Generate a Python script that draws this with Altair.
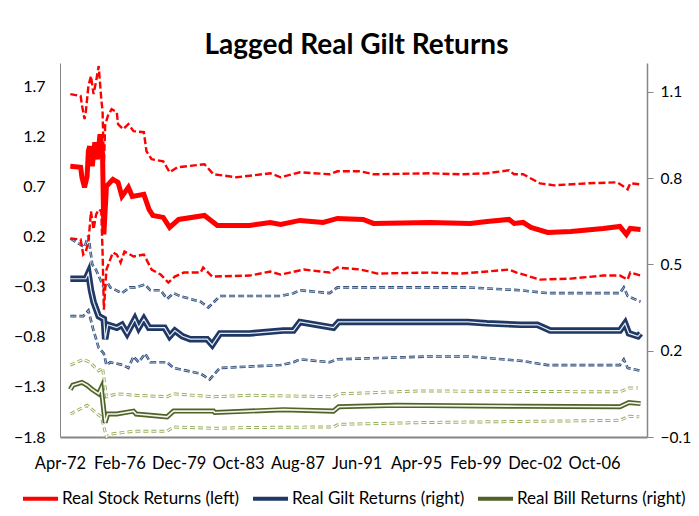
import altair as alt
import pandas as pd

FONT = "Lato"

# ---------------- axis texts / ticks ----------------
x_labels = ["Apr-72", "Feb-76", "Dec-79", "Oct-83", "Aug-87", "Jun-91",
            "Apr-95", "Feb-99", "Dec-02", "Oct-06"]
label_step = 46          # months between category labels
x_end = 455              # last month on the category axis (months since Apr-72)
left_ticks = [-1.8, -1.3, -0.8, -0.3, 0.2, 0.7, 1.2, 1.7]
right_ticks = [-0.1, 0.2, 0.5, 0.8, 1.1]
left_domain = [-1.8, 1.93]
right_domain = [-0.1, 1.2]

series_names = ["Real Stock Returns (left)", "Real Gilt Returns (right)",
                "Real Bill Returns (right)"]
series_colors = ["#FF0000", "#1F3864", "#4F6228"]

# ---------------- data (months since Apr-72, values) ----------------
# Real stock returns (left axis)
stock_m = [8, 16, 17, 19, 21, 22, 23, 25, 27, 29, 31, 33, 34, 36, 41, 45, 48, 53, 56, 65,
           69, 72, 80, 85, 92, 112, 119, 122, 147, 163, 171, 186, 204, 215, 235, 243, 287,
           318, 331, 348, 352, 359, 365, 378, 396, 421, 434, 439, 442, 450]
stock_v = [0.90, 0.89, 0.79, 0.69, 0.80, 1.05, 1.10, 0.90, 1.14, 0.97, 1.22, 1.00, 0.22, 0.70,
           0.77, 0.74, 0.60, 0.69, 0.60, 0.62, 0.47, 0.41, 0.39, 0.29, 0.37, 0.41, 0.34, 0.31,
           0.31, 0.34, 0.32, 0.36, 0.34, 0.38, 0.37, 0.33, 0.34, 0.33, 0.35, 0.37, 0.33, 0.34,
           0.29, 0.24, 0.25, 0.28, 0.30, 0.22, 0.28, 0.27]
stock_up_m = [8, 16, 17, 19, 20, 22, 24, 26, 28, 30, 32, 33, 34, 35, 37, 40, 44, 45, 49, 53,
              57, 65, 67, 71, 80, 85, 91, 112, 119, 137, 163, 171, 186, 209, 215, 233, 243,
              287, 310, 331, 348, 352, 359, 372, 383, 409, 432, 440, 442, 450]
stock_up_v = [1.62, 1.60, 1.51, 1.37, 1.44, 1.70, 1.80, 1.62, 1.75, 1.90, 1.57, 1.45, 0.90,
              1.31, 1.40, 1.47, 1.44, 1.32, 1.27, 1.32, 1.25, 1.24, 1.05, 0.97, 0.95, 0.84,
              0.89, 0.92, 0.82, 0.79, 0.83, 0.79, 0.84, 0.82, 0.85, 0.85, 0.82, 0.83, 0.82,
              0.83, 0.86, 0.82, 0.82, 0.73, 0.71, 0.73, 0.74, 0.67, 0.73, 0.72]
stock_lo_m = [8, 16, 18, 20, 22, 24, 26, 28, 30, 32, 33, 34, 36, 41, 44, 47, 50, 57, 65, 71,
              78, 84, 89, 96, 109, 111, 118, 147, 163, 171, 189, 209, 215, 233, 246, 287, 310,
              331, 348, 354, 372, 396, 421, 434, 440, 442, 450]
stock_lo_v = [0.18, 0.17, 0.02, 0.05, 0.14, 0.45, 0.27, 0.42, 0.47, 0.45, 0.04, -0.53, -0.13,
              0.04, 0.02, -0.06, 0.05, 0.00, 0.02, -0.13, -0.18, -0.26, -0.20, -0.16, -0.16,
              -0.11, -0.20, -0.19, -0.15, -0.18, -0.13, -0.16, -0.11, -0.13, -0.17, -0.16,
              -0.17, -0.15, -0.13, -0.16, -0.23, -0.22, -0.19, -0.19, -0.23, -0.16, -0.19]

# Real gilt returns (right axis)
gilt_m = [8, 20, 22, 24, 26, 30, 34, 35, 37, 44, 48, 52, 58, 61, 65, 69, 81, 85, 89, 95, 101,
          114, 118, 124, 147, 173, 181, 186, 212, 216, 256, 287, 316, 331, 357, 370, 380, 409,
          434, 438, 441, 448, 450]
gilt_v = [0.45, 0.45, 0.47, 0.41, 0.37, 0.32, 0.31, 0.24, 0.29, 0.28, 0.29, 0.26, 0.31, 0.28,
          0.31, 0.28, 0.28, 0.25, 0.27, 0.25, 0.24, 0.24, 0.22, 0.26, 0.26, 0.27, 0.27, 0.30,
          0.28, 0.30, 0.30, 0.30, 0.30, 0.295, 0.29, 0.29, 0.27, 0.27, 0.27, 0.295, 0.26,
          0.25, 0.26]
gilt_up_m = [8, 19, 22, 25, 28, 31, 34, 37, 39, 48, 54, 58, 66, 70, 78, 83, 88, 93, 109, 115,
             124, 171, 181, 186, 209, 215, 256, 287, 316, 357, 378, 434, 437, 440, 450]
gilt_up_v = [0.59, 0.56, 0.60, 0.50, 0.48, 0.45, 0.42, 0.435, 0.42, 0.40, 0.42, 0.42, 0.43,
             0.41, 0.41, 0.38, 0.40, 0.39, 0.37, 0.35, 0.39, 0.39, 0.40, 0.41, 0.40, 0.42,
             0.42, 0.42, 0.42, 0.41, 0.40, 0.40, 0.42, 0.39, 0.37]
gilt_lo_m = [8, 18, 22, 26, 30, 34, 36, 39, 49, 53, 57, 61, 66, 70, 83, 88, 109, 116, 124, 171,
             181, 186, 209, 215, 287, 316, 357, 378, 434, 437, 440, 450]
gilt_lo_v = [0.32, 0.32, 0.34, 0.27, 0.21, 0.19, 0.15, 0.16, 0.15, 0.14, 0.18, 0.16, 0.19,
             0.16, 0.16, 0.14, 0.12, 0.10, 0.14, 0.15, 0.16, 0.17, 0.16, 0.17, 0.18, 0.18,
             0.165, 0.15, 0.15, 0.17, 0.14, 0.13]

# Real bill returns (right axis)
bill_m = [8, 10, 17, 21, 25, 30, 32, 35, 37, 44, 57, 59, 83, 88, 119, 120, 147, 173, 212, 216,
          261, 357, 434, 441, 450]
bill_v = [0.065, 0.08, 0.09, 0.08, 0.065, 0.05, 0.07, -0.05, -0.02, -0.02, -0.01, -0.02,
          -0.03, -0.01, -0.01, -0.015, -0.01, -0.005, -0.01, 0.005, 0.01, 0.007, 0.005, 0.02,
          0.016]
bill_up_m = [8, 18, 23, 30, 33, 36, 44, 59, 83, 88, 119, 147, 212, 216, 279, 434, 441, 448]
bill_up_v = [0.15, 0.17, 0.16, 0.13, 0.14, 0.04, 0.05, 0.045, 0.04, 0.05, 0.04, 0.045, 0.04,
             0.05, 0.06, 0.057, 0.07, 0.07]
bill_lo_m = [8, 21, 29, 32, 36, 39, 57, 83, 88, 119, 147, 212, 216, 279, 434, 441, 449]
bill_lo_v = [-0.02, 0.01, -0.02, -0.03, -0.10, -0.09, -0.08, -0.08, -0.065, -0.07, -0.067,
             -0.065, -0.056, -0.05, -0.042, -0.028, -0.03]


def frame(months, values, name):
    return pd.DataFrame({"month": months, "value": values, "series": name})


# ---------------- encodings ----------------
label_expr = "[" + ",".join("'%s'" % s for s in x_labels) + "][round(datum.value / %d)]" % label_step
x_enc = alt.X(
    "month:Q",
    scale=alt.Scale(domain=[0, x_end], nice=False, zero=False),
    axis=alt.Axis(values=[i * label_step for i in range(len(x_labels))], labelExpr=label_expr,
                  ticks=False, tickSize=0, labelPadding=18, domainColor="#868686",
                  domainWidth=2, grid=False, title=None, labelFont=FONT, labelFontSize=16.5,
                  labelColor="black", labelAngle=0, labelOverlap=False, labelFlush=False),
)
y_left = alt.Y(
    "value:Q",
    scale=alt.Scale(domain=left_domain, nice=False, zero=False),
    axis=alt.Axis(orient="left", values=left_ticks, format=".1f", ticks=False, tickSize=0,
                  labelPadding=15, domainColor="#868686", domainWidth=1, grid=False,
                  title=None, labelFont=FONT, labelFontSize=16, labelColor="black",
                  labelOverlap=False, labelFlush=False),
)
y_right = alt.Y(
    "value:Q",
    scale=alt.Scale(domain=right_domain, nice=False, zero=False),
    axis=alt.Axis(orient="right", values=right_ticks, format=".1f", ticks=True, tickSize=6,
                  tickColor="#868686", tickWidth=1, labelPadding=7, domainColor="#868686",
                  domainWidth=1.5, grid=False, title=None, labelFont=FONT, labelFontSize=15.5,
                  labelColor="black", labelOverlap=False, labelFlush=False),
)
legend = alt.Legend(orient="none", legendX=-39, legendY=416, direction="horizontal",
                    title=None, symbolType="stroke", symbolSize=1225, symbolStrokeWidth=4,
                    labelFont=FONT, labelFontSize=17, labelColor="black", columnPadding=5,
                    labelOffset=2, padding=0, labelLimit=0)
color_enc = alt.Color("series:N", scale=alt.Scale(domain=series_names, range=series_colors),
                      legend=legend)


def line(data, y, width, color=None, dash=None, legend_entry=False):
    props = {"strokeWidth": width}
    if dash is not None:
        props["strokeDash"] = dash
    if not legend_entry:
        props["color"] = color
    enc = {"x": x_enc, "y": y}
    if legend_entry:
        enc["color"] = color_enc
    return alt.Chart(data).mark_line(**props).encode(**enc)


stock = frame(stock_m, stock_v, series_names[0])
stock_up = frame(stock_up_m, stock_up_v, "stock upper")
stock_lo = frame(stock_lo_m, stock_lo_v, "stock lower")
gilt = frame(gilt_m, gilt_v, series_names[1])
gilt_up = frame(gilt_up_m, gilt_up_v, "gilt upper")
gilt_lo = frame(gilt_lo_m, gilt_lo_v, "gilt lower")
bill = frame(bill_m, bill_v, series_names[2])
bill_up = frame(bill_up_m, bill_up_v, "bill upper")
bill_lo = frame(bill_lo_m, bill_lo_v, "bill lower")

right_group = alt.layer(
    line(bill_up, y_right, 3, "#98AE5C", [5, 3]),
    line(bill_up, y_right, 1.1, "#FFFFFF", [5, 3]),
    line(bill_lo, y_right, 3, "#98AE5C", [5, 3]),
    line(bill_lo, y_right, 1.1, "#FFFFFF", [5, 3]),
    line(bill, y_right, 5, legend_entry=True),
    line(bill, y_right, 1.6, "#F2F5EA"),
    line(gilt_up, y_right, 2.6, "#2B4A78", [6, 3]),
    line(gilt_up, y_right, 0.8, "#C9D3E2", [6, 3]),
    line(gilt_lo, y_right, 2.6, "#2B4A78", [6, 3]),
    line(gilt_lo, y_right, 0.8, "#C9D3E2", [6, 3]),
    line(gilt, y_right, 6.5, legend_entry=True),
    line(gilt, y_right, 1.2, "#E6ECF5"),
)
left_group = alt.layer(
    line(stock_up, y_left, 2.4, "#FF0000", [7, 3]),
    line(stock_lo, y_left, 2.4, "#FF0000", [7, 3]),
    line(stock, y_left, 5, legend_entry=True),
)

chart = (
    alt.layer(right_group, left_group)
    .resolve_scale(y="independent")
    .properties(
        width=587,
        height=374,
        title=alt.TitleParams("Lagged Real Gilt Returns", font=FONT, fontSize=28,
                              fontWeight="bold", color="black", anchor="middle",
                              frame="group", offset=1, dx=3),
        autosize=alt.AutoSizeParams(type="none"),
        padding={"left": 52, "top": 55, "right": 44, "bottom": 71},
        background="white",
    )
    .configure_view(stroke=None)
)

chart.save("out.html", embed_options={"renderer": "svg", "actions": False})
